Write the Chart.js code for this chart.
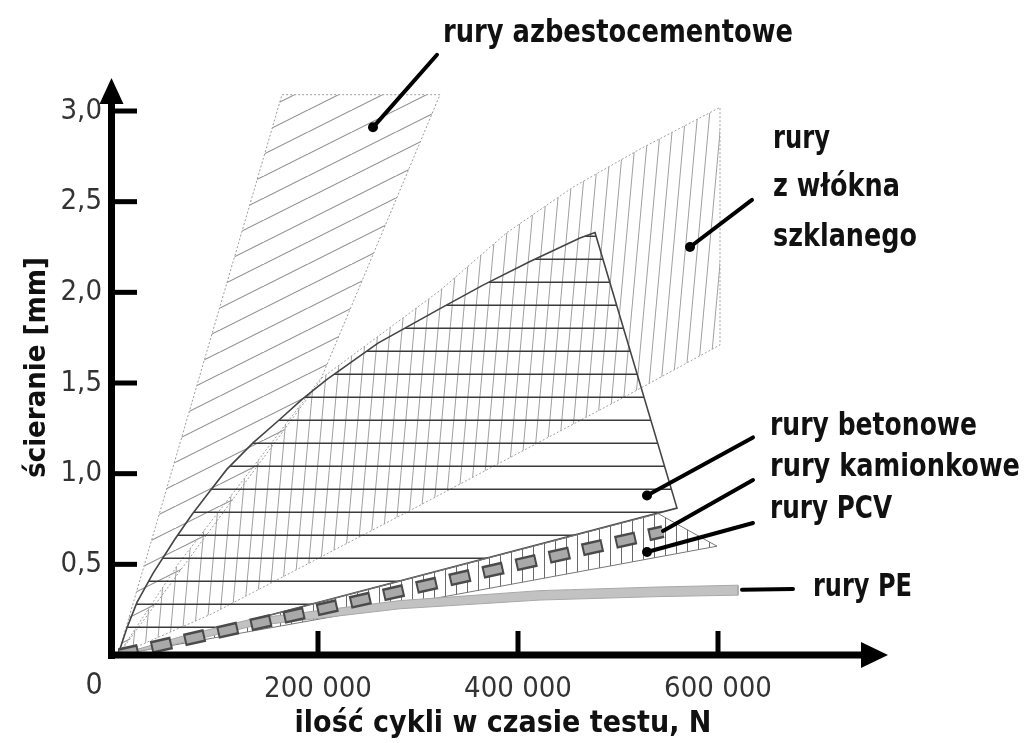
<!DOCTYPE html>
<html>
<head>
<meta charset="utf-8">
<script src="https://cdn.jsdelivr.net/npm/chart.js@4.4.0/dist/chart.umd.min.js"></script>
<style>
  html, body { margin: 0; padding: 0; background: #fff; }
  #wrap { width: 1026px; height: 743px; }
</style>
</head>
<body>
<div id="wrap"><canvas id="chart"></canvas></div>
<script>
// osie
const xTicks = [200000, 400000, 600000];
const xTickLabels = ['200 000', '400 000', '600 000'];
const yTicks = [0.5, 1.0, 1.5, 2.0, 2.5, 3.0];
const yTickLabels = ['0,5', '1,0', '1,5', '2,0', '2,5', '3,0'];

// rury azbestocementowe (obrys obszaru)
const azbestX = [0, 164000, 322000, 202000, 0];
const azbestY = [0, 3.09, 3.09, 1.51, 0];

// rury z włókna szklanego
const szkloX = [0, 60000, 130000, 202000, 322000, 389000, 455000, 522000, 602000, 602000, 502000, 300000, 95000, 0];
const szkloY = [0, 0.50, 1.00, 1.52, 2.01, 2.33, 2.58, 2.79, 3.02, 1.71, 1.41, 0.82, 0.23, 0];

// rury betonowe
const betonX = [0, 9000, 19000, 35000, 57000, 74000, 92000, 109000, 135000, 162000, 184000, 209000, 260000, 322000, 365000, 412000, 462000, 477000, 559000, 0];
const betonY = [0, 0.15, 0.29, 0.45, 0.64, 0.775, 0.905, 1.025, 1.17, 1.30, 1.41, 1.52, 1.72, 1.91, 2.04, 2.17, 2.30, 2.33, 0.81, 0];

// rury PCV
const pcvX = [0, 280000, 540000, 599000, 300000, 0];
const pcvY = [0, 0.405, 0.78, 0.60, 0.295, 0];

// rury kamionkowe
const kamionX = [0, 545000];
const kamionY = [0, 0.68];

// rury PE
const peX = [0, 62000, 135000, 282000, 422000, 540000, 620000, 620000, 540000, 422000, 282000, 135000, 62000, 0];
const peY = [0, 0.10, 0.20, 0.30, 0.355, 0.375, 0.385, 0.33, 0.322, 0.303, 0.255, 0.16, 0.065, 0];

const pts = (xs, ys) => xs.map((v, i) => ({x: v, y: ys[i]}));

const canvas = document.getElementById('chart');
const cctx = canvas.getContext('2d');

// kreskowanie
function hatch(w, h, draw) {
  const c = document.createElement('canvas');
  c.width = w; c.height = h;
  const g = c.getContext('2d');
  draw(g, w, h);
  return cctx.createPattern(c, 'repeat');
}
const azbestFill = hatch(44, 22, (g, w, h) => {
  g.strokeStyle = '#8c8c8c'; g.lineWidth = 1.1;
  for (const dx of [-w, 0, w]) { g.beginPath(); g.moveTo(dx, h); g.lineTo(dx + w, 0); g.stroke(); }
});
const szkloFill = hatch(12, 132, (g, w, h) => {
  g.strokeStyle = '#a0a0a0'; g.lineWidth = 1;
  for (const dx of [-w, 0, w]) { g.beginPath(); g.moveTo(dx, h); g.lineTo(dx + w, 0); g.stroke(); }
});
const betonFill = hatch(4, 23, (g, w) => {
  g.fillStyle = '#3a3a3a'; g.fillRect(0, 5.5, w, 1.5);
});
const pcvFill = hatch(11, 4, (g, w, h) => {
  g.fillStyle = '#6a6a6a'; g.fillRect(5, 0, 1, h);
});

const fontNarrow = '"Liberation Sans Narrow", "DejaVu Sans Condensed", "Arial Narrow", sans-serif';
const fontLabel = '"DejaVu Sans Condensed", "DejaVu Sans", sans-serif';

const osie = {
  id: 'osie',
  afterDatasetsDraw(chart) {
    const {ctx, scales: {x, y}} = chart;
    const x0 = x.getPixelForValue(0);
    const y0 = y.getPixelForValue(0);
    ctx.save();
    ctx.fillStyle = '#000';
    // oś Y ze strzałką
    ctx.fillRect(x0 - 10, y.top + 22, 7, y0 - y.top - 18);
    ctx.beginPath();
    ctx.moveTo(x0 - 6.5, y.top - 2);
    ctx.lineTo(x0 - 18.5, y.top + 24);
    ctx.lineTo(x0 + 5.5, y.top + 24);
    ctx.closePath(); ctx.fill();
    // oś X ze strzałką
    ctx.fillRect(x0 - 10, y0 - 3.5, x.right - 24 - (x0 - 10), 7);
    ctx.beginPath();
    ctx.moveTo(x.right, y0);
    ctx.lineTo(x.right - 27, y0 - 13);
    ctx.lineTo(x.right - 27, y0 + 13);
    ctx.closePath(); ctx.fill();
    yTicks.forEach(v => {
      const py = y.getPixelForValue(v);
      ctx.fillRect(x0 - 4, py - 2.5, 23, 5);
    });
    xTicks.forEach(v => {
      const px = x.getPixelForValue(v);
      ctx.fillRect(px - 2.5, y0 - 24, 5, 22);
    });
    // zero w rogu
    ctx.fillStyle = '#333';
    ctx.font = '30px ' + fontNarrow;
    ctx.textAlign = 'center';
    ctx.textBaseline = 'middle';
    ctx.fillText('0', x0 - 24, y0 + 31);

    // odnośniki
    const P = (vx, vy) => [x.getPixelForValue(vx), y.getPixelForValue(vy)];
    const ref = [
      [P(255000, 2.91), P(319000, 3.31), true],
      [P(572000, 2.25), P(634000, 2.51), true],
      [P(529000, 0.88), P(635000, 1.20), true],
      [P(545000, 0.684), P(635000, 0.965), false],
      [P(529000, 0.568), P(635000, 0.728), true],
      [P(624000, 0.36), P(675000, 0.364), false]
    ];
    ctx.strokeStyle = '#000';
    ctx.fillStyle = '#000';
    ctx.lineWidth = 4;
    ctx.lineCap = 'round';
    ref.forEach(([a, b, dot]) => {
      ctx.beginPath(); ctx.moveTo(a[0], a[1]); ctx.lineTo(b[0], b[1]); ctx.stroke();
      if (dot) { ctx.beginPath(); ctx.arc(a[0], a[1], 5, 0, Math.PI * 2); ctx.fill(); }
    });

    // opisy
    ctx.fillStyle = '#111';
    ctx.textAlign = 'left';
    ctx.font = 'bold 32px ' + fontLabel;
    const opisy = [
      ['rury azbestocementowe', 443, 34, 350],
      ['rury', 773, 140, 57],
      ['z włókna', 773, 188, 127],
      ['szklanego', 773, 238, 144],
      ['rury betonowe', 770, 427, 207],
      ['rury kamionkowe', 770, 468, 250],
      ['rury PCV', 770, 510, 122],
      ['rury PE', 813, 588, 99]
    ];
    opisy.forEach(([t, px, py, w]) => ctx.fillText(t, px, py, w));
    ctx.restore();
  }
};

new Chart(cctx, {
  type: 'line',
  data: {
    datasets: [
      {
        label: 'rury azbestocementowe',
        data: pts(azbestX, azbestY),
        fill: 'shape',
        backgroundColor: azbestFill,
        borderColor: '#9a9a9a',
        borderWidth: 1,
        borderDash: [2, 2],
        order: 6
      },
      {
        label: 'rury z włókna szklanego',
        data: pts(szkloX, szkloY),
        fill: 'shape',
        backgroundColor: szkloFill,
        borderColor: '#a0a0a0',
        borderWidth: 1,
        borderDash: [2, 2],
        order: 5
      },
      {
        label: 'rury betonowe',
        data: pts(betonX, betonY),
        fill: 'shape',
        backgroundColor: betonFill,
        borderColor: '#444',
        borderWidth: 1.6,
        order: 4
      },
      {
        label: 'rury PCV',
        data: pts(pcvX, pcvY),
        fill: 'shape',
        backgroundColor: pcvFill,
        borderColor: '#777',
        borderWidth: 1,
        order: 3
      },
      {
        label: 'rury PE',
        data: pts(peX, peY),
        fill: 'shape',
        backgroundColor: '#c2c2c2',
        borderColor: '#a8a8a8',
        borderWidth: 1,
        order: 2
      },
      {
        label: 'rury kamionkowe',
        data: pts(kamionX, kamionY),
        fill: false,
        borderColor: '#4a4a4a',
        borderWidth: 13,
        borderDash: [21, 13],
        order: 1
      },
      {
        label: 'rury kamionkowe (środek)',
        data: pts(kamionX, kamionY),
        fill: false,
        borderColor: '#a9a9a9',
        borderWidth: 8,
        borderDash: [17, 17],
        borderDashOffset: -2,
        order: 0
      }
    ]
  },
  options: {
    responsive: true,
    maintainAspectRatio: false,
    animation: false,
    layout: { padding: { top: 80, right: 138, left: 0, bottom: 0 } },
    elements: { point: { radius: 0, hoverRadius: 0 }, line: { tension: 0 } },
    plugins: { legend: { display: false }, tooltip: { enabled: false } },
    events: [],
    scales: {
      x: {
        type: 'linear',
        min: 0,
        max: 770000,
        afterBuildTicks: s => { s.ticks = xTicks.map(v => ({value: v})); },
        afterFit: s => { s.height = 88; },
        grid: { display: false, drawTicks: false },
        border: { display: false },
        ticks: {
          autoSkip: false,
          maxRotation: 0,
          padding: 17,
          color: '#333',
          font: { family: fontNarrow, size: 29 },
          callback: (v, i) => xTickLabels[i]
        },
        title: {
          display: true,
          text: 'ilość cykli w czasie testu, N',
          color: '#111',
          font: { family: fontNarrow, size: 30, weight: 'bold' },
          padding: { top: 0, bottom: 1 }
        }
      },
      y: {
        type: 'linear',
        min: 0,
        max: 3.171,
        afterBuildTicks: s => { s.ticks = yTicks.map(v => ({value: v})); },
        afterFit: s => { s.width = 118; },
        grid: { display: false, drawTicks: false },
        border: { display: false },
        ticks: {
          autoSkip: false,
          padding: 16,
          color: '#333',
          font: { family: fontNarrow, size: 29 },
          callback: (v, i) => yTickLabels[i]
        },
        title: {
          display: true,
          text: 'ścieranie [mm]',
          color: '#111',
          font: { family: fontNarrow, size: 29, weight: 'bold' },
          padding: { top: 20, bottom: 0 }
        }
      }
    }
  },
  plugins: [osie]
});
</script>
</body>
</html>
